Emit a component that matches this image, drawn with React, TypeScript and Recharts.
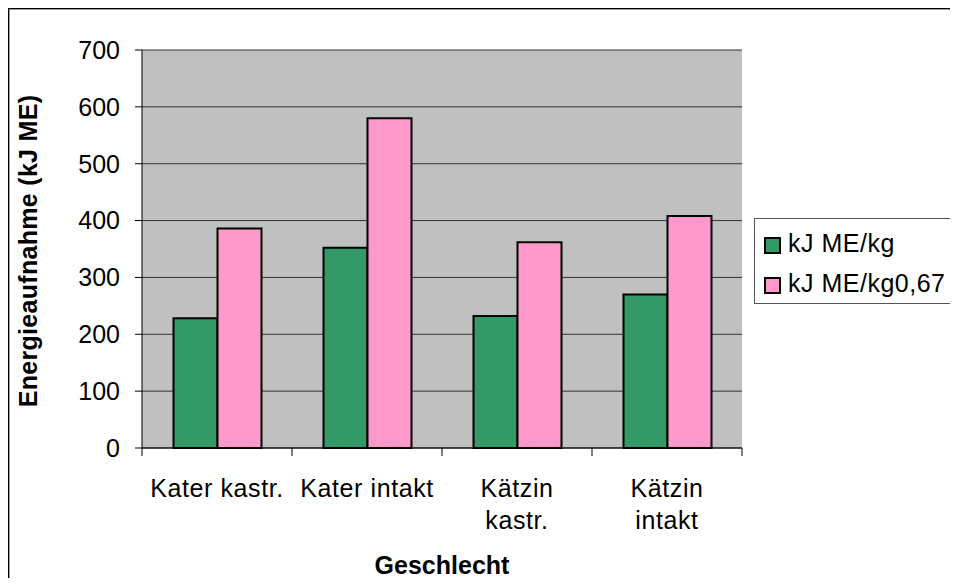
import { BarChart, Bar, XAxis, YAxis, CartesianGrid, Label } from 'recharts';

const categories = ['Kater kastr.', 'Kater intakt', 'Kätzin kastr.', 'Kätzin intakt'];
// how Excel wrapped the category labels
const tickLines = [['Kater kastr.'], ['Kater intakt'], ['Kätzin', 'kastr.'], ['Kätzin', 'intakt']];
const perKg = [228, 352, 232, 270];
const perKgMetabolic = [386, 580, 362, 408];
const yTicks = [0, 100, 200, 300, 400, 500, 600, 700];

const series = [
  { key: 'perKg', name: 'kJ ME/kg', color: '#339966' },
  { key: 'perKgMetabolic', name: 'kJ ME/kg0,67', color: '#FF99CC' },
];

const data = categories.map((c, i) => ({
  name: c,
  perKg: perKg[i],
  perKgMetabolic: perKgMetabolic[i],
}));

const FONT = '"Liberation Sans", Arial, sans-serif';

function CategoryTick(props: any) {
  const { x, y, payload, index, visibleTicksCount } = props;
  const half = payload.offset || 75;
  const lines = tickLines[index] || [String(payload.value)];
  const isLast = index === visibleTicksCount - 1;
  return (
    <g>
      <line x1={x - half} x2={x - half} y1={y - 8} y2={y} stroke="#000" strokeWidth={1} />
      {isLast && <line x1={x + half} x2={x + half} y1={y - 8} y2={y} stroke="#000" strokeWidth={1} />}
      <text x={x} y={y} textAnchor="middle" fontFamily={FONT} fontSize={25} letterSpacing={0.6} fill="#000">
        {lines.map((l, i) => (
          <tspan key={i} x={x} dy={i === 0 ? 41 : 32}>
            {l}
          </tspan>
        ))}
      </text>
    </g>
  );
}

export default function App() {
  return (
    <div style={{ position: 'relative', width: 958, height: 586, margin: -8, overflow: 'hidden', background: '#fff' }}>
      <div
        style={{
          position: 'absolute',
          left: 7,
          top: 7,
          width: 980,
          height: 600,
          border: '2px solid #000',
          boxShadow: 'inset 1px 1px 0 #999',
        }}
      />
      <div style={{ position: 'absolute', left: 0, top: 0 }}>
        <BarChart
          width={958}
          height={586}
          data={data}
          margin={{ top: 50, right: 216, bottom: 38, left: 82 }}
          barCategoryGap="21%"
          barGap={0}
        >
          <CartesianGrid vertical={false} fill="#C0C0C0" stroke="#333" strokeWidth={1} fillOpacity={1} />
          <XAxis
            dataKey="name"
            height={100}
            tickSize={8}
            tickMargin={0}
            tickLine={false}
            axisLine={{ stroke: '#000', strokeWidth: 1 }}
            tick={<CategoryTick />}
            interval={0}
          >
            <Label
              content={(p: any) => {
                const vb = p.viewBox || {};
                return (
                  <text
                    x={vb.x + vb.width / 2}
                    y={574}
                    textAnchor="middle"
                    fontFamily={FONT}
                    fontSize={25}
                    fontWeight="bold"
                    fill="#000"
                  >
                    Geschlecht
                  </text>
                );
              }}
            />
          </XAxis>
          <YAxis
            width={60}
            domain={[0, 700]}
            ticks={yTicks}
            interval={0}
            tickSize={7}
            tickMargin={15}
            tickLine={{ stroke: '#000' }}
            axisLine={{ stroke: '#000', strokeWidth: 1 }}
            tick={{ fontFamily: FONT, fontSize: 25, fill: '#000' }}
          >
            <Label
              content={() => (
                <text
                  x={0}
                  y={0}
                  transform="translate(37 251) rotate(-90)"
                  textAnchor="middle"
                  fontFamily={FONT}
                  fontSize={25}
                  fontWeight="bold"
                  letterSpacing={0.3}
                  fill="#000"
                >
                  Energieaufnahme (kJ ME)
                </text>
              )}
            />
          </YAxis>
          <YAxis
            yAxisId="right"
            orientation="right"
            width={0}
            domain={[0, 700]}
            tick={false}
            tickLine={false}
            axisLine={{ stroke: '#999', strokeWidth: 2 }}
          />
          {series.map((s) => (
            <Bar
              key={s.key}
              dataKey={s.key}
              name={s.name}
              fill={s.color}
              stroke="#000"
              strokeWidth={2}
              isAnimationActive={false}
            />
          ))}
        </BarChart>
      </div>
      <div
        style={{
          position: 'absolute',
          left: 754,
          top: 218,
          width: 199,
          height: 84,
          border: '1px solid #555',
          background: '#fff',
          fontFamily: FONT,
          fontSize: 25,
          color: '#000',
        }}
      >
        {series.map((s, i) => (
          <div
            key={s.key}
            style={{ position: 'absolute', left: 9, top: 9 + i * 40, height: 30, display: 'flex', alignItems: 'center', whiteSpace: 'nowrap', letterSpacing: 0.5 }}
          >
            <span
              style={{
                display: 'inline-block',
                width: 13,
                height: 13,
                background: s.color,
                border: '2px solid #000',
                marginRight: 7,
                marginTop: 4,
              }}
            />
            <span>{s.name}</span>
          </div>
        ))}
      </div>
    </div>
  );
}
